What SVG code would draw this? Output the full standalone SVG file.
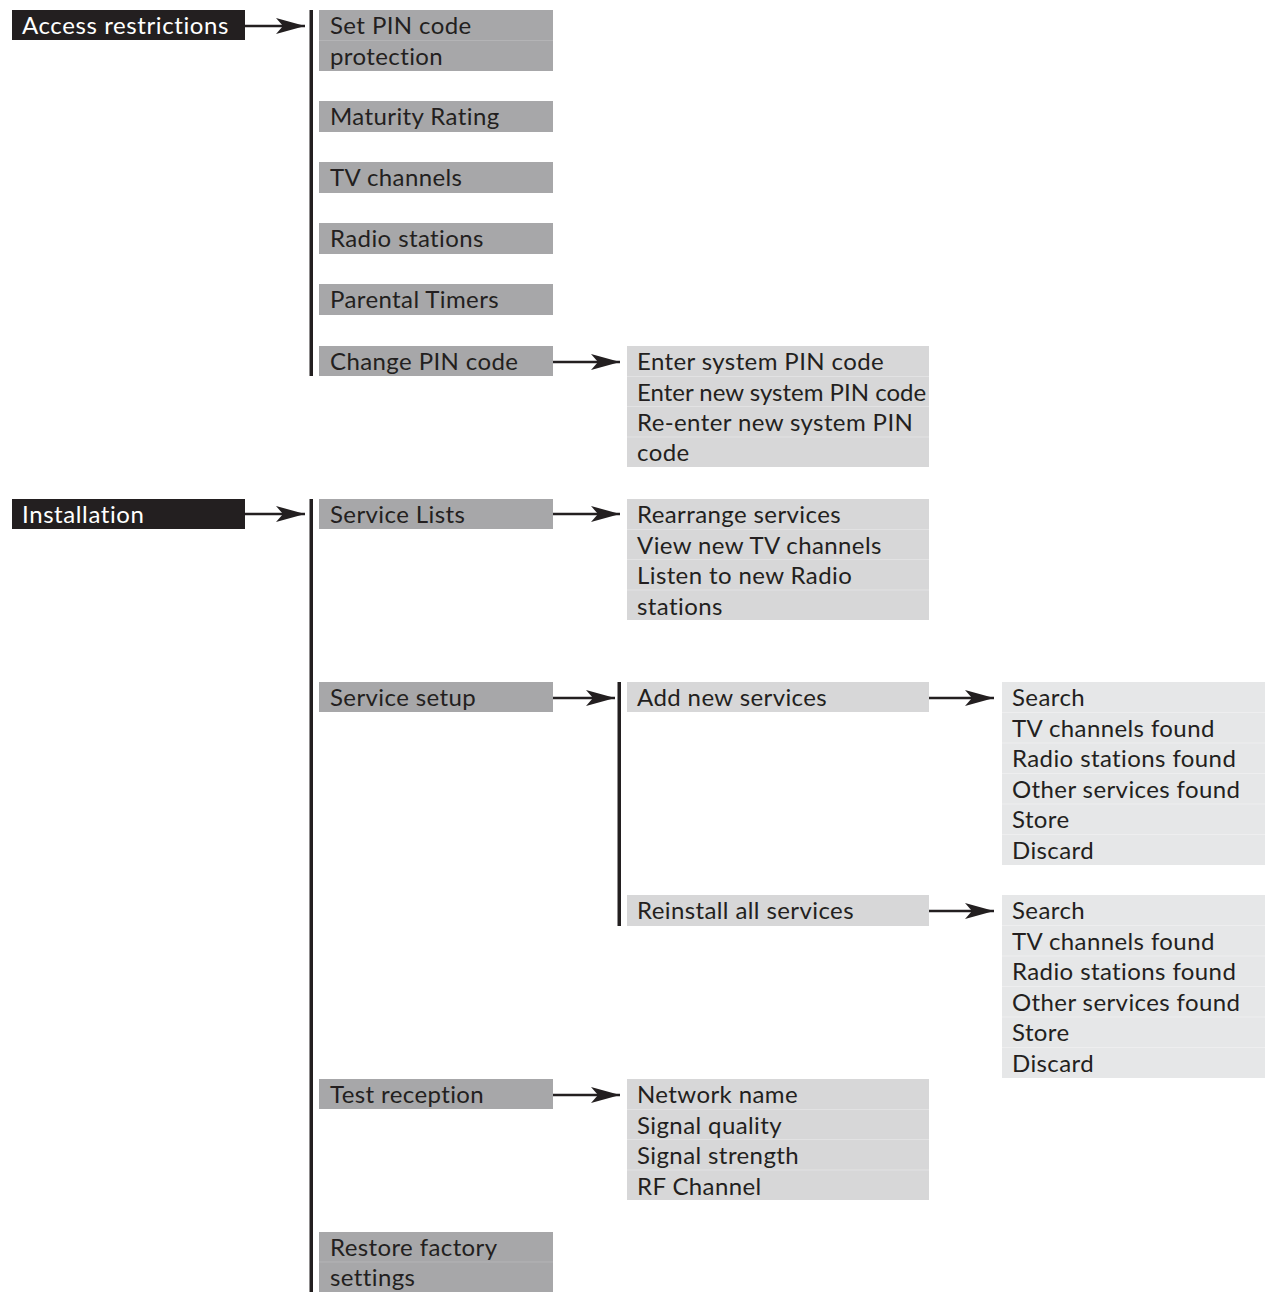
<svg xmlns="http://www.w3.org/2000/svg" width="1273" height="1301" viewBox="0 0 1273 1301">
<style>
text{font-family:Lato,"Open Sans","Liberation Sans",sans-serif;font-size:24px;fill:#231f20;letter-spacing:0.4px}
.tight{letter-spacing:0}
.hd{fill:#231f20}
.hdt{fill:#ffffff;letter-spacing:0.6px}
.l1{fill:#a7a7a9}
.l2{fill:#d7d7d8}
.l3{fill:#e6e7e8}
.sep1{stroke:#b4b4b6;stroke-width:1}
.sep2{stroke:#e2e2e3;stroke-width:1}
.sep3{stroke:#eeeeef;stroke-width:1}
.bar{fill:#231f20}
.arr{stroke:#231f20;stroke-width:2.5;fill:none;marker-end:url(#ah)}
</style>
<defs>
<marker id="ah" markerUnits="userSpaceOnUse" markerWidth="32" markerHeight="20" refX="30" refY="10" orient="auto">
<path d="M30,10 L1,2 L8,10 L1,18 Z" fill="#231f20"/>
</marker>
</defs>
<rect width="1273" height="1301" fill="#ffffff"/>

<g id="connectors">
<rect class="bar" x="309.5" y="10" width="3.5" height="366"/>
<rect class="bar" x="309.5" y="499" width="3.5" height="793"/>
<rect class="bar" x="617.5" y="682" width="3.5" height="244"/>
<line class="arr" x1="245" y1="26" x2="305" y2="26"/>
<line class="arr" x1="553" y1="362" x2="620" y2="362"/>
<line class="arr" x1="245" y1="514" x2="305" y2="514"/>
<line class="arr" x1="553" y1="514" x2="620" y2="514"/>
<line class="arr" x1="553" y1="698" x2="615" y2="698"/>
<line class="arr" x1="929" y1="698" x2="994" y2="698"/>
<line class="arr" x1="929" y1="911" x2="994" y2="911"/>
<line class="arr" x1="553" y1="1095" x2="620" y2="1095"/>
</g>

<g id="access-restrictions">
<rect class="hd" x="12" y="10" width="233" height="30"/>
<text class="hdt" x="22" y="34">Access restrictions</text>
</g>
<g id="set-pin">
<rect class="l1" x="319" y="10" width="234" height="61"/>
<line class="sep1" x1="319" y1="40.5" x2="553" y2="40.5"/>
<text x="330" y="34">Set PIN code</text>
<text x="330" y="65">protection</text>
</g>
<g id="maturity-rating">
<rect class="l1" x="319" y="101" width="234" height="31"/>
<text x="330" y="125">Maturity Rating</text>
</g>
<g id="tv-channels">
<rect class="l1" x="319" y="162" width="234" height="31"/>
<text x="330" y="186">TV channels</text>
</g>
<g id="radio-stations">
<rect class="l1" x="319" y="223" width="234" height="31"/>
<text x="330" y="247">Radio stations</text>
</g>
<g id="parental-timers">
<rect class="l1" x="319" y="284" width="234" height="31"/>
<text x="330" y="308">Parental Timers</text>
</g>
<g id="change-pin">
<rect class="l1" x="319" y="346" width="234" height="30"/>
<text x="330" y="370">Change PIN code</text>
</g>
<g id="change-pin-items">
<rect class="l2" x="627" y="346" width="302" height="121"/>
<line class="sep2" x1="627" y1="376.5" x2="929" y2="376.5"/>
<line class="sep2" x1="627" y1="406.5" x2="929" y2="406.5"/>
<line class="sep2" x1="627" y1="437" x2="929" y2="437"/>
<text x="637" y="370">Enter system PIN code</text>
<text class="tight" x="637" y="401">Enter new system PIN code</text>
<text x="637" y="431">Re-enter new system PIN</text>
<text x="637" y="461">code</text>
</g>

<g id="installation">
<rect class="hd" x="12" y="499" width="233" height="30"/>
<text class="hdt" x="22" y="523">Installation</text>
</g>
<g id="service-lists">
<rect class="l1" x="319" y="499" width="234" height="30"/>
<text x="330" y="523">Service Lists</text>
</g>
<g id="service-lists-items">
<rect class="l2" x="627" y="499" width="302" height="121"/>
<line class="sep2" x1="627" y1="529.5" x2="929" y2="529.5"/>
<line class="sep2" x1="627" y1="559.5" x2="929" y2="559.5"/>
<line class="sep2" x1="627" y1="590" x2="929" y2="590"/>
<text x="637" y="523">Rearrange services</text>
<text x="637" y="554">View new TV channels</text>
<text x="637" y="584">Listen to new Radio</text>
<text x="637" y="615">stations</text>
</g>
<g id="service-setup">
<rect class="l1" x="319" y="682" width="234" height="30"/>
<text x="330" y="706">Service setup</text>
</g>
<g id="add-new-services">
<rect class="l2" x="627" y="682" width="302" height="30"/>
<text x="637" y="706">Add new services</text>
</g>
<g id="add-new-items">
<rect class="l3" x="1002" y="682" width="263" height="183"/>
<line class="sep3" x1="1002" y1="712.5" x2="1265" y2="712.5"/>
<line class="sep3" x1="1002" y1="743" x2="1265" y2="743"/>
<line class="sep3" x1="1002" y1="773.5" x2="1265" y2="773.5"/>
<line class="sep3" x1="1002" y1="804" x2="1265" y2="804"/>
<line class="sep3" x1="1002" y1="834.5" x2="1265" y2="834.5"/>
<text x="1012" y="706">Search</text>
<text x="1012" y="737">TV channels found</text>
<text x="1012" y="767">Radio stations found</text>
<text x="1012" y="798">Other services found</text>
<text x="1012" y="828">Store</text>
<text x="1012" y="859">Discard</text>
</g>
<g id="reinstall-all">
<rect class="l2" x="627" y="895" width="302" height="31"/>
<text x="637" y="919">Reinstall all services</text>
</g>
<g id="reinstall-items">
<rect class="l3" x="1002" y="895" width="263" height="183"/>
<line class="sep3" x1="1002" y1="925.5" x2="1265" y2="925.5"/>
<line class="sep3" x1="1002" y1="956" x2="1265" y2="956"/>
<line class="sep3" x1="1002" y1="986.5" x2="1265" y2="986.5"/>
<line class="sep3" x1="1002" y1="1017" x2="1265" y2="1017"/>
<line class="sep3" x1="1002" y1="1047.5" x2="1265" y2="1047.5"/>
<text x="1012" y="919">Search</text>
<text x="1012" y="950">TV channels found</text>
<text x="1012" y="980">Radio stations found</text>
<text x="1012" y="1011">Other services found</text>
<text x="1012" y="1041">Store</text>
<text x="1012" y="1072">Discard</text>
</g>
<g id="test-reception">
<rect class="l1" x="319" y="1079" width="234" height="30"/>
<text x="330" y="1103">Test reception</text>
</g>
<g id="test-reception-items">
<rect class="l2" x="627" y="1079" width="302" height="121"/>
<line class="sep2" x1="627" y1="1109.5" x2="929" y2="1109.5"/>
<line class="sep2" x1="627" y1="1139.5" x2="929" y2="1139.5"/>
<line class="sep2" x1="627" y1="1170" x2="929" y2="1170"/>
<text x="637" y="1103">Network name</text>
<text x="637" y="1134">Signal quality</text>
<text x="637" y="1164">Signal strength</text>
<text x="637" y="1195">RF Channel</text>
</g>
<g id="restore-factory">
<rect class="l1" x="319" y="1232" width="234" height="60"/>
<line class="sep1" x1="319" y1="1262" x2="553" y2="1262"/>
<text x="330" y="1256">Restore factory</text>
<text x="330" y="1286">settings</text>
</g>
</svg>
